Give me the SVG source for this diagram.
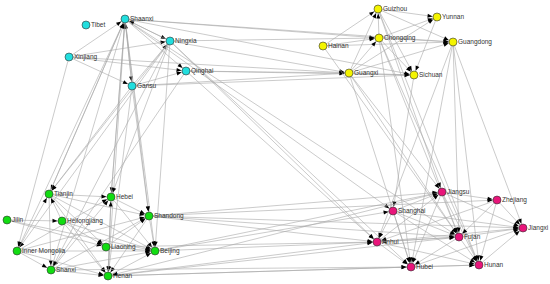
<svg xmlns="http://www.w3.org/2000/svg" width="550" height="284" viewBox="0 0 550 284">
<style>
.e line{stroke:#a8a8a8;stroke-width:0.6;fill:none;marker-end:url(#a)}
.n circle{stroke:#333;stroke-width:0.6}
.c circle{fill:#22dede}
.y circle{fill:#f4f400}
.g circle{fill:#12dc12}
.p circle{fill:#e8157a}
.n text{font-family:"Liberation Sans",Arial,sans-serif;font-size:6.5px;fill:#333}
</style>
<defs>
<marker id="a" markerUnits="userSpaceOnUse" markerWidth="6" markerHeight="4" refX="9.5" refY="2" orient="auto" overflow="visible">
<path d="M0,0 L5,2 L0,4 z" fill="#000"/>
</marker>
</defs>
<rect width="550" height="284" fill="#fff"/>
<g id="connectors" class="e">
<line x1="69" y1="57" x2="125" y2="19"/>
<line x1="69" y1="57" x2="170" y2="41"/>
<line x1="69" y1="57" x2="186" y2="71"/>
<line x1="69" y1="57" x2="132" y2="86"/>
<line x1="125" y1="19" x2="170" y2="41"/>
<line x1="125" y1="19" x2="186" y2="71"/>
<line x1="125" y1="19" x2="132" y2="86"/>
<line x1="132" y1="86" x2="125" y2="19"/>
<line x1="132" y1="86" x2="170" y2="41"/>
<line x1="132" y1="86" x2="186" y2="71"/>
<line x1="170" y1="41" x2="125" y2="19"/>
<line x1="125" y1="19" x2="379" y2="38"/>
<line x1="125" y1="19" x2="453" y2="42"/>
<line x1="125" y1="19" x2="414" y2="75"/>
<line x1="170" y1="41" x2="349" y2="73"/>
<line x1="170" y1="41" x2="379" y2="38"/>
<line x1="69" y1="57" x2="349" y2="73"/>
<line x1="186" y1="71" x2="349" y2="73"/>
<line x1="186" y1="71" x2="414" y2="75"/>
<line x1="132" y1="86" x2="349" y2="73"/>
<line x1="132" y1="86" x2="414" y2="75"/>
<line x1="125" y1="19" x2="49" y2="194"/>
<line x1="125" y1="19" x2="111" y2="197"/>
<line x1="111" y1="197" x2="125" y2="19"/>
<line x1="125" y1="19" x2="149" y2="216"/>
<line x1="125" y1="19" x2="155" y2="251"/>
<line x1="125" y1="19" x2="108" y2="276"/>
<line x1="125" y1="19" x2="17" y2="251"/>
<line x1="49" y1="194" x2="125" y2="19"/>
<line x1="51" y1="270" x2="125" y2="19"/>
<line x1="170" y1="41" x2="49" y2="194"/>
<line x1="170" y1="41" x2="111" y2="197"/>
<line x1="170" y1="41" x2="17" y2="251"/>
<line x1="170" y1="41" x2="51" y2="270"/>
<line x1="170" y1="41" x2="155" y2="251"/>
<line x1="132" y1="86" x2="108" y2="276"/>
<line x1="132" y1="86" x2="49" y2="194"/>
<line x1="132" y1="86" x2="149" y2="216"/>
<line x1="186" y1="71" x2="51" y2="270"/>
<line x1="69" y1="57" x2="17" y2="251"/>
<line x1="186" y1="71" x2="377" y2="242"/>
<line x1="170" y1="41" x2="377" y2="242"/>
<line x1="170" y1="41" x2="411" y2="267"/>
<line x1="125" y1="19" x2="459" y2="237"/>
<line x1="125" y1="19" x2="393" y2="211"/>
<line x1="378" y1="9" x2="437" y2="17"/>
<line x1="379" y1="38" x2="437" y2="17"/>
<line x1="349" y1="73" x2="437" y2="17"/>
<line x1="323" y1="46" x2="378" y2="9"/>
<line x1="349" y1="73" x2="378" y2="9"/>
<line x1="379" y1="38" x2="378" y2="9"/>
<line x1="323" y1="46" x2="453" y2="42"/>
<line x1="379" y1="38" x2="453" y2="42"/>
<line x1="437" y1="17" x2="414" y2="75"/>
<line x1="349" y1="73" x2="414" y2="75"/>
<line x1="379" y1="38" x2="414" y2="75"/>
<line x1="378" y1="9" x2="414" y2="75"/>
<line x1="349" y1="73" x2="379" y2="38"/>
<line x1="349" y1="73" x2="453" y2="42"/>
<line x1="378" y1="9" x2="453" y2="42"/>
<line x1="323" y1="46" x2="379" y2="38"/>
<line x1="453" y1="42" x2="377" y2="242"/>
<line x1="453" y1="42" x2="411" y2="267"/>
<line x1="453" y1="42" x2="459" y2="237"/>
<line x1="453" y1="42" x2="479" y2="265"/>
<line x1="453" y1="42" x2="523" y2="228"/>
<line x1="379" y1="38" x2="411" y2="267"/>
<line x1="379" y1="38" x2="459" y2="237"/>
<line x1="379" y1="38" x2="479" y2="265"/>
<line x1="378" y1="9" x2="479" y2="265"/>
<line x1="378" y1="9" x2="442" y2="192"/>
<line x1="349" y1="73" x2="442" y2="192"/>
<line x1="349" y1="73" x2="459" y2="237"/>
<line x1="323" y1="46" x2="459" y2="237"/>
<line x1="414" y1="75" x2="393" y2="211"/>
<line x1="349" y1="73" x2="411" y2="267"/>
<line x1="49" y1="194" x2="111" y2="197"/>
<line x1="49" y1="194" x2="149" y2="216"/>
<line x1="49" y1="194" x2="155" y2="251"/>
<line x1="49" y1="194" x2="106" y2="247"/>
<line x1="49" y1="194" x2="108" y2="276"/>
<line x1="49" y1="194" x2="51" y2="270"/>
<line x1="17" y1="251" x2="49" y2="194"/>
<line x1="62" y1="221" x2="49" y2="194"/>
<line x1="7" y1="220" x2="62" y2="221"/>
<line x1="7" y1="220" x2="106" y2="247"/>
<line x1="7" y1="220" x2="155" y2="251"/>
<line x1="17" y1="251" x2="155" y2="251"/>
<line x1="17" y1="251" x2="51" y2="270"/>
<line x1="17" y1="251" x2="149" y2="216"/>
<line x1="17" y1="251" x2="111" y2="197"/>
<line x1="17" y1="251" x2="108" y2="276"/>
<line x1="51" y1="270" x2="108" y2="276"/>
<line x1="51" y1="270" x2="155" y2="251"/>
<line x1="51" y1="270" x2="149" y2="216"/>
<line x1="51" y1="270" x2="111" y2="197"/>
<line x1="62" y1="221" x2="106" y2="247"/>
<line x1="62" y1="221" x2="155" y2="251"/>
<line x1="62" y1="221" x2="108" y2="276"/>
<line x1="111" y1="197" x2="108" y2="276"/>
<line x1="108" y1="276" x2="111" y2="197"/>
<line x1="111" y1="197" x2="155" y2="251"/>
<line x1="111" y1="197" x2="149" y2="216"/>
<line x1="149" y1="216" x2="155" y2="251"/>
<line x1="149" y1="216" x2="108" y2="276"/>
<line x1="106" y1="247" x2="155" y2="251"/>
<line x1="108" y1="276" x2="155" y2="251"/>
<line x1="106" y1="247" x2="149" y2="216"/>
<line x1="149" y1="216" x2="442" y2="192"/>
<line x1="149" y1="216" x2="497" y2="200"/>
<line x1="149" y1="216" x2="377" y2="242"/>
<line x1="149" y1="216" x2="459" y2="237"/>
<line x1="149" y1="216" x2="523" y2="228"/>
<line x1="155" y1="251" x2="442" y2="192"/>
<line x1="155" y1="251" x2="377" y2="242"/>
<line x1="155" y1="251" x2="393" y2="211"/>
<line x1="108" y1="276" x2="377" y2="242"/>
<line x1="108" y1="276" x2="411" y2="267"/>
<line x1="108" y1="276" x2="479" y2="265"/>
<line x1="108" y1="276" x2="459" y2="237"/>
<line x1="442" y1="192" x2="108" y2="276"/>
<line x1="51" y1="270" x2="411" y2="267"/>
<line x1="106" y1="247" x2="377" y2="242"/>
<line x1="442" y1="192" x2="497" y2="200"/>
<line x1="393" y1="211" x2="442" y2="192"/>
<line x1="442" y1="192" x2="523" y2="228"/>
<line x1="442" y1="192" x2="459" y2="237"/>
<line x1="442" y1="192" x2="479" y2="265"/>
<line x1="442" y1="192" x2="411" y2="267"/>
<line x1="377" y1="242" x2="442" y2="192"/>
<line x1="393" y1="211" x2="377" y2="242"/>
<line x1="393" y1="211" x2="411" y2="267"/>
<line x1="393" y1="211" x2="459" y2="237"/>
<line x1="393" y1="211" x2="479" y2="265"/>
<line x1="393" y1="211" x2="523" y2="228"/>
<line x1="497" y1="200" x2="523" y2="228"/>
<line x1="497" y1="200" x2="459" y2="237"/>
<line x1="497" y1="200" x2="377" y2="242"/>
<line x1="497" y1="200" x2="479" y2="265"/>
<line x1="459" y1="237" x2="523" y2="228"/>
<line x1="459" y1="237" x2="377" y2="242"/>
<line x1="377" y1="242" x2="459" y2="237"/>
<line x1="459" y1="237" x2="411" y2="267"/>
<line x1="459" y1="237" x2="479" y2="265"/>
<line x1="377" y1="242" x2="411" y2="267"/>
<line x1="377" y1="242" x2="479" y2="265"/>
<line x1="377" y1="242" x2="523" y2="228"/>
<line x1="411" y1="267" x2="479" y2="265"/>
<line x1="411" y1="267" x2="523" y2="228"/>
<line x1="479" y1="265" x2="523" y2="228"/>
</g>
<g id="shaanxi" class="n c"><circle cx="125" cy="19" r="4"/><text x="130" y="21.3">Shaanxi</text></g>
<g id="tibet" class="n c"><circle cx="86" cy="25" r="4"/><text x="91" y="27.3">Tibet</text></g>
<g id="ningxia" class="n c"><circle cx="170" cy="41" r="4"/><text x="175" y="43.3">Ningxia</text></g>
<g id="xinjiang" class="n c"><circle cx="69" cy="57" r="4"/><text x="74" y="59.3">Xinjiang</text></g>
<g id="qinghai" class="n c"><circle cx="186" cy="71" r="4"/><text x="191" y="73.3">Qinghai</text></g>
<g id="gansu" class="n c"><circle cx="132" cy="86" r="4"/><text x="137" y="88.3">Gansu</text></g>
<g id="guizhou" class="n y"><circle cx="378" cy="9" r="4"/><text x="383" y="11.3">Guizhou</text></g>
<g id="yunnan" class="n y"><circle cx="437" cy="17" r="4"/><text x="442" y="19.3">Yunnan</text></g>
<g id="chongqing" class="n y"><circle cx="379" cy="38" r="4"/><text x="384" y="40.3">Chongqing</text></g>
<g id="hainan" class="n y"><circle cx="323" cy="46" r="4"/><text x="328" y="48.3">Hainan</text></g>
<g id="guangdong" class="n y"><circle cx="453" cy="42" r="4"/><text x="458" y="44.3">Guangdong</text></g>
<g id="guangxi" class="n y"><circle cx="349" cy="73" r="4"/><text x="354" y="75.3">Guangxi</text></g>
<g id="sichuan" class="n y"><circle cx="414" cy="75" r="4"/><text x="419" y="77.3">Sichuan</text></g>
<g id="tianjin" class="n g"><circle cx="49" cy="194" r="4"/><text x="54" y="196.3">Tianjin</text></g>
<g id="hebei" class="n g"><circle cx="111" cy="197" r="4"/><text x="116" y="199.3">Hebei</text></g>
<g id="jilin" class="n g"><circle cx="7" cy="220" r="4"/><text x="12" y="222.3">Jilin</text></g>
<g id="heilongjiang" class="n g"><circle cx="62" cy="221" r="4"/><text x="67" y="223.3">Heilongjiang</text></g>
<g id="shandong" class="n g"><circle cx="149" cy="216" r="4"/><text x="154" y="218.3">Shandong</text></g>
<g id="innermongolia" class="n g"><circle cx="17" cy="251" r="4"/><text x="22" y="253.3">Inner Mongolia</text></g>
<g id="liaoning" class="n g"><circle cx="106" cy="247" r="4"/><text x="111" y="249.3">Liaoning</text></g>
<g id="beijing" class="n g"><circle cx="155" cy="251" r="4"/><text x="160" y="253.3">Beijing</text></g>
<g id="shanxi" class="n g"><circle cx="51" cy="270" r="4"/><text x="56" y="272.3">Shanxi</text></g>
<g id="henan" class="n g"><circle cx="108" cy="276" r="4"/><text x="113" y="278.3">Henan</text></g>
<g id="jiangsu" class="n p"><circle cx="442" cy="192" r="4"/><text x="447" y="194.3">Jiangsu</text></g>
<g id="zhejiang" class="n p"><circle cx="497" cy="200" r="4"/><text x="502" y="202.3">Zhejiang</text></g>
<g id="shanghai" class="n p"><circle cx="393" cy="211" r="4"/><text x="398" y="213.3">Shanghai</text></g>
<g id="jiangxi" class="n p"><circle cx="523" cy="228" r="4"/><text x="528" y="230.3">Jiangxi</text></g>
<g id="fujan" class="n p"><circle cx="459" cy="237" r="4"/><text x="464" y="239.3">Fujan</text></g>
<g id="anhui" class="n p"><circle cx="377" cy="242" r="4"/><text x="382" y="244.3">Anhui</text></g>
<g id="hubei" class="n p"><circle cx="411" cy="267" r="4"/><text x="416" y="269.3">Hubei</text></g>
<g id="hunan" class="n p"><circle cx="479" cy="265" r="4"/><text x="484" y="267.3">Hunan</text></g>
</svg>
